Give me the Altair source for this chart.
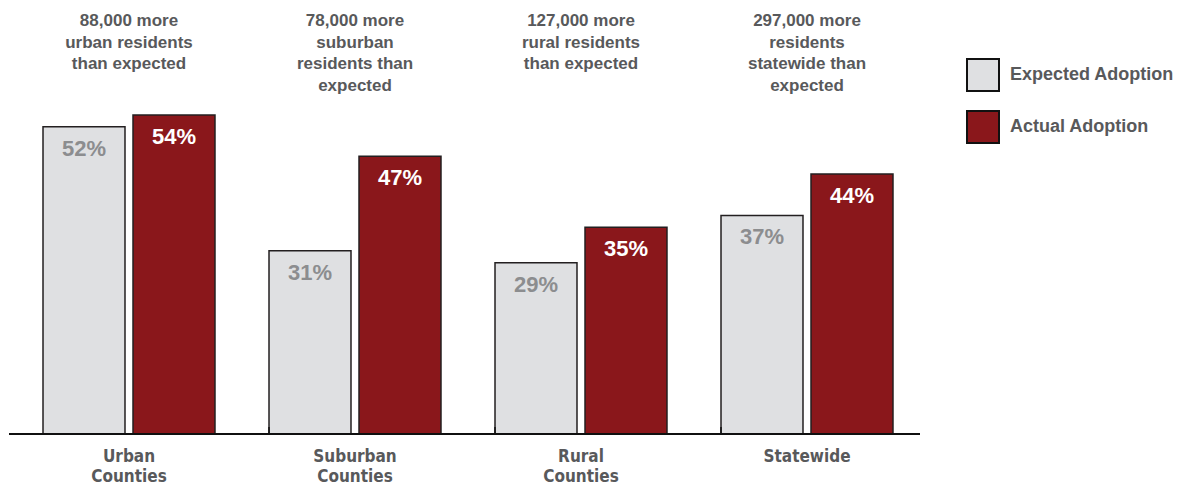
import altair as alt
import pandas as pd

categories = ["Urban\nCounties", "Suburban\nCounties", "Rural\nCounties", "Statewide"]
series = ["Expected Adoption", "Actual Adoption"]
expected = [52, 31, 29, 37]
actual = [54, 47, 35, 44]
notes = [
    "88,000 more\nurban residents\nthan expected",
    "78,000 more\nsuburban\nresidents than\nexpected",
    "127,000 more\nrural residents\nthan expected",
    "297,000 more\nresidents\nstatewide than\nexpected",
]

rows = []
for c, e, a in zip(categories, expected, actual):
    rows.append({"cat": c, "series": series[0], "value": e, "label": f"{e}%"})
    rows.append({"cat": c, "series": series[1], "value": a, "label": f"{a}%"})
df = pd.DataFrame(rows)
notes_df = pd.DataFrame({"cat": categories, "note": notes})
ticks_df = pd.DataFrame({"cat": categories[1:]})

W, H = 904, 426
GRAY_TXT = "#58595b"
FONT = "Liberation Sans"
NARROW = "'DejaVu Sans Condensed', 'Liberation Sans Narrow', 'Liberation Sans', sans-serif"

xscale = alt.Scale(domain=categories, paddingInner=0.239, paddingOuter=0.1195)
xoff = alt.Scale(domain=series, paddingInner=0.0889, paddingOuter=0)
yscale = alt.Scale(domain=[0, 72.1], nice=False)

base = alt.Chart(df)

bars = base.mark_bar(stroke="#231f20", strokeWidth=1.5).encode(
    x=alt.X("cat:N", scale=xscale, axis=None, sort=categories),
    xOffset=alt.XOffset("series:N", scale=xoff, sort=series),
    y=alt.Y("value:Q", scale=yscale, axis=None),
    color=alt.Color(
        "series:N",
        scale=alt.Scale(domain=series, range=["#dfe0e2", "#8a171b"]),
        legend=alt.Legend(title=None, orient="none", legendX=950, legendY=50),
    ),
)

exp_txt = base.transform_filter(alt.datum.series == series[0]).mark_text(
    baseline="top", dy=12, font=FONT, fontWeight="bold", fontSize=22, color="#8c8d8f"
).encode(
    x=alt.X("cat:N", scale=xscale, axis=None, sort=categories),
    xOffset=alt.XOffset("series:N", scale=xoff, sort=series),
    y=alt.Y("value:Q", scale=yscale, axis=None),
    text="label:N",
)
act_txt = base.transform_filter(alt.datum.series == series[1]).mark_text(
    baseline="top", dy=12, font=FONT, fontWeight="bold", fontSize=22, color="white"
).encode(
    x=alt.X("cat:N", scale=xscale, axis=None, sort=categories),
    xOffset=alt.XOffset("series:N", scale=xoff, sort=series),
    y=alt.Y("value:Q", scale=yscale, axis=None),
    text="label:N",
)

note_txt = alt.Chart(notes_df).mark_text(
    baseline="top", lineBreak="\n", lineHeight=21.7, font=FONT, fontWeight="bold",
    fontSize=17, color=GRAY_TXT,
).encode(
    x=alt.X("cat:N", scale=xscale, axis=None, sort=categories),
    y=alt.value(5),
    text="note:N",
)

cat_txt = alt.Chart(notes_df).mark_text(
    baseline="top", lineBreak="\n", lineHeight=20, font=NARROW,
    fontWeight="bold", fontSize=17, color=GRAY_TXT,
).encode(
    x=alt.X("cat:N", scale=xscale, axis=None, sort=categories),
    y=alt.value(H + 15),
    text="cat:N",
)

baseline = alt.Chart(notes_df).mark_rule(color="#111111", strokeWidth=1.5).encode(
    x=alt.value(-7), x2=alt.value(W), y=alt.value(H)
)

tick_marks = alt.Chart(ticks_df).mark_rule(color="#111111", strokeWidth=1.5).encode(
    x=alt.X("cat:N", scale=xscale, axis=None, bandPosition=0, sort=categories),
    y=alt.value(H - 7),
    y2=alt.value(H),
)

chart = alt.layer(bars, exp_txt, act_txt, note_txt, cat_txt, tick_marks, baseline).properties(
    width=W,
    height=H,
    autosize=alt.AutoSizeParams(type="none"),
    padding={"left": 8, "top": 0, "right": 260, "bottom": 53},
).configure_view(stroke=None).configure_legend(
    symbolType="square",
    symbolSize=1024,
    symbolStrokeColor="#111111",
    symbolStrokeWidth=2,
    rowPadding=12,
    labelOffset=10,
    labelFont=FONT,
    labelFontWeight="bold",
    labelFontSize=18,
    labelColor=GRAY_TXT,
    labelLimit=300,
)

chart.save("out.html", embed_options={"renderer": "svg", "actions": False})
